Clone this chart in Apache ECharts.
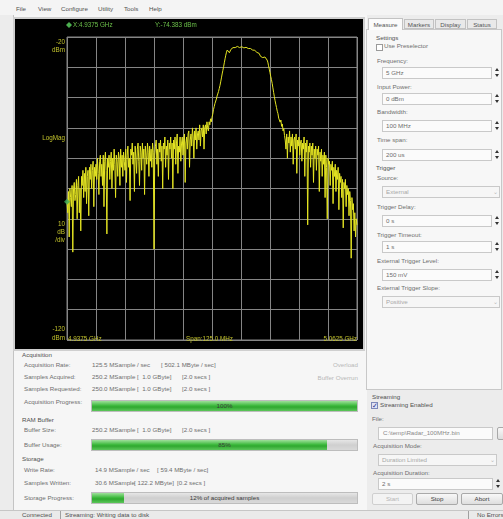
<!DOCTYPE html>
<html><head><meta charset="utf-8">
<script src="https://cdn.jsdelivr.net/npm/echarts@6/dist/echarts.min.js"></script>
<style>
html,body{margin:0;padding:0;width:503px;height:519px;overflow:hidden;background:#ececec;font-family:"Liberation Sans",Arial,sans-serif;font-size:6.2px;color:#606060;}
#ui{position:absolute;left:0;top:0;width:503px;height:519px;}
.abs{position:absolute;white-space:pre;line-height:8px;}
.hdr{color:#505050;}
.lbl{color:#6e6e6e;}
.dim{color:#b8b8b8;}
.box{position:absolute;background:#fbfbfb;border:1px solid #c9c9c9;box-sizing:border-box;}
.btn{position:absolute;box-sizing:border-box;border:1px solid #a9a9a9;border-radius:2px;background:linear-gradient(#f8f8f8,#dedede);text-align:center;line-height:10px;color:#404040;}
.bar{position:absolute;box-sizing:border-box;border:1px solid #bdbdbd;background:linear-gradient(#e6e6e6,#cfcfcf 50%,#d9d9d9);overflow:hidden;}
.fill{position:absolute;left:0;top:0;bottom:0;background:linear-gradient(#9ee09a,#3fba3f 45%,#2fa82f 60%,#5cc65a);}
.bartxt{position:absolute;left:0;right:0;top:0;bottom:0;text-align:center;line-height:10px;color:#3a3a3a;}
#chart{position:absolute;left:15px;top:19px;width:348px;height:330px;}
</style></head><body>
<div id="ui"></div>
<div id="chart"></div>
<script>
// ---------------- data ----------------
const startFreqMHz = 4937.5;
const stopFreqMHz = 5062.5;
const freqStepMHz = 0.3125;
const freqDivMHz = 12.5;
const refLevel = -20;
const bottomLevel = -120;
const dbPerDiv = 10;
const levels = [
 -74.4,-78,-71,-86,-70,-73,-76,-69,-91,-70,
 -68,-74,-72,-67,-80,-69,-66,-78,-70,-84,
 -66,-69,-64,-73,-65,-71,-63,-75,-66,-64,
 -79,-63,-67,-62,-70,-64,-61,-76,-63,-66,
 -62,
 -67,-60,-65,-72,-61,-59,-66,-62,-69,-59,
 -76,-61,-58,-64,-85,-60,-63,-59,-67,-61,
 -58,-70,-60,-64,-57,-62,-73,-59,-61,-66,
 -58,-60,-69,-57,-63,-59,-66,-58,-61,-64,
 -57,-68,-59,-56,-63,-60,-74,-57,-59,-55,
 -62,-58,-71,-56,-60,-65,-57,-55,-61,-69,
 -56,-58,-64,-55,-60,-57,-72,-56,-59,-62,
 -55,-58,-66,-56,-61,-57,-63,-55,-58,-90,
 -59,-56,-54,-62,-57,-66,-55,-58,-54,-61,
 -56,-70,-55,-57,-53,-63,-56,-59,-54,-67,
 -55,-57,-53,-60,-55,-70,-54,-57,-53,-62,
 -55,-52,-65,-56,-58,-53,-61,-55,-53,-59,
 -54,-52,-68,-55,-53,-57,-52,-51,-63,-54,
 -52,-56,-50,-53,-60,-51,-54,-50,-57,-52,
 -51,-54,-49,-56,-51,-50,-53,-49,-57,-50,
 -49,-52,-48,-50,-51,-48,-49,-47,-48,-46.5,
 -45.5,-44,-43,-42,-41.5,-40.5,-39.5,-39,-38,-37,
 -36,-34.8,-33.5,-32.2,-31,-29.8,-28.5,-27.2,-26,-25,
 -24.3,-23.9,
 -24.6,-25.2,-24.8,-24.1,-23.8,-23.9,-23.5,-23.7,
 -23.3,-23.5,-23.2,-23.4,-23.1,-23.3,-23.2,-23.5,-23.3,-23.4,
 -23.2,-23.5,-23.3,-23.6,-23.4,-23.5,-23.4,-23.7,-23.6,-23.8,
 -23.6,-23.9,-23.8,-24.1,-23.9,-24.3,-24.2,-24.5,-24.4,-24.8,
 -24.7,-25.1,-25.3,-25.0,-25.4,-25.9,-26.4,-26.1,-26.3,-26.8,
 -26.5,-27,-26.6,-26.9,-27.2,-27.6,
 -28.3,-29.5,-30.6,-31.8,-33,-34.1,-35.3,-36.8,-38.3,-39.7,
 -41,-42.2,-43.3,-44.5,-45.3,-46.8,-46.2,-48.1,-47.4,-49.5,
 -48.7,-51,-50.2,-52.5,
 -54,-57,-52,-60,-53,-55,-51,-58,-53,-56,
 -52,-62,-54,-53,-57,-52,-65,-54,-56,-53,
 -59,-55,-54,-61,-55,-57,-53,-66,-55,-58,
 -54,-82,-56,-58,-55,-63,-56,-59,-55,-68,
 -57,-60,-56,-64,-57,-59,-56,-71,-58,-61,
 -57,-66,-59,-62,-58,-73,-59,-63,-80,-60,
 -62,-61,-69,-62,-64,-61,-75,-63,-66,-62,
 -71,-64,-67,-63,-77,-65,-68,-66,-73,-67,
 -83,-68,-70,-67,-76,-69,-72,-70,-79,-71,
 -74,-93,-73,-77,-75,-84,-78,-86,-80,-82
];
const markerFreqMHz = 4937.5;
const markerLevel = -74.383;
const yLabelsTop = ['-20','dBm'];
const yLabelsMid = ['LogMag'];
const yLabelsScale = ['10','dB','/div'];
const yLabelsBottom = ['-120','dBm'];
const xLabels = ['4.9375 GHz','Span:125.0 MHz','5.0625 GHz'];

const menuItems = ['File','View','Configure','Utility','Tools','Help'];
const tabs = ['Measure','Markers','Display','Status'];
const acqRows = [
 ['Acquisition Rate:',['125.5 MSample / sec','','[ 502.1 MByte / sec]']],
 ['Samples Acquired:',['250.2 MSample','[  1.0 GByte]','[2.0 secs ]']],
 ['Samples Requested:',['250.0 MSample','[  1.0 GByte]','[2.0 secs ]']]
];
const ramRows = [['Buffer Size:',['250.2 MSample','[  1.0 GByte]','[2.0 secs ]']]];
const storRows = [
 ['Write Rate:',['14.9 MSample / sec','','[ 59.4 MByte / sec]']],
 ['Samples Written:',['30.6 MSample','[ 122.2 MByte]','[0.2 secs ]']]
];
const acqProgress = 100, bufferUsage = 85, storageProgress = 12;

// ---------------- UI chrome ----------------
const ui = document.getElementById('ui');
function el(cls, css, text){const d=document.createElement('div');d.className=cls;Object.assign(d.style,css);if(text!==undefined)d.textContent=text;ui.appendChild(d);return d;}
function txt(x,y,s,cls,extra){return el('abs '+(cls||''),Object.assign({left:x+'px',top:(y-4)+'px'},extra||{}),s);}
function rtxt(xr,y,s,cls){return el('abs '+(cls||''),{right:(503-xr)+'px',top:(y-4)+'px'},s);}
function rect(x,y,w,h,css){return el('abs',Object.assign({left:x+'px',top:y+'px',width:w+'px',height:h+'px'},css));}
function spin(x,y,w,s){el('box',{left:x+'px',top:(y-6)+'px',width:w+'px',height:'12px'});el('abs lbl',{left:(x+4)+'px',top:(y-4)+'px'},s);
  el('abs',{left:(x+w+3)+'px',top:(y-5)+'px',width:0,height:0,borderLeft:'2.5px solid transparent',borderRight:'2.5px solid transparent',borderBottom:'3.5px solid #333'});
  el('abs',{left:(x+w+3)+'px',top:(y+1)+'px',width:0,height:0,borderLeft:'2.5px solid transparent',borderRight:'2.5px solid transparent',borderTop:'3.5px solid #333'});}
function combo(x,y,w,s){el('box',{left:x+'px',top:(y-6)+'px',width:w+'px',height:'12px',background:'#f6f6f6'});el('abs dim',{left:(x+4)+'px',top:(y-4)+'px',color:'#a8a8a8'},s);el('abs dim',{left:(x+w-7)+'px',top:(y-4)+'px'},'\u2304');}
function progress(x,y,w,h,fillPct,label){const b=el('bar',{left:x+'px',top:y+'px',width:w+'px',height:h+'px'});const f=document.createElement('div');f.className='fill';f.style.width=fillPct+'%';b.appendChild(f);const t=document.createElement('div');t.className='bartxt';t.textContent=label;b.appendChild(t);}
function check(x,y,on){const c=el('abs',{left:x+'px',top:(y-3)+'px',width:'5px',height:'5px',border:'1px solid '+(on?'#7d88b8':'#9a9a9a'),background:on?'#dfe3f5':'#fff'});if(on){c.style.color='#1e2f8a';c.style.fontSize='7px';c.style.lineHeight='6px';c.textContent='\u2713';}}
function valueRow(y,label,parts,cols){txt(24,y,label,'lbl');parts.forEach((p,i)=>{if(p)txt(cols[i],y,p,'lbl');});}

// menu bar
rect(0,0,503,15,{background:'#f4f4f4'});
const menuX=[16,38,61,98,124,149];
menuItems.forEach((m,i)=>txt(menuX[i],9,m,'hdr'));
// main content panel (left)
rect(13,15,353,495,{background:'#f6f6f6',borderLeft:'1px solid #c4c4c4'});
rect(13,17,352,334,{background:'#cfcfcf'});
// right tab panel
rect(366,29,136,361,{background:'#f7f7f7',border:'1px solid #c8c8c8',boxSizing:'border-box'});
const tabX=[368,404,435,467], tabW=[35,30,31,30];
tabs.forEach((t,i)=>{const a=i===0;el('abs',{left:tabX[i]+'px',top:(a?18:19)+'px',width:tabW[i]+'px',height:(a?12:10)+'px',boxSizing:'border-box',border:'1px solid #c2c2c2',borderBottom:a?'none':'1px solid #c2c2c2',background:a?'#fbfbfb':'#e9e9e9',textAlign:'center',lineHeight:(a?11:9)+'px',color:'#555'},t);});
txt(376,38,'Settings','hdr');
check(376,47,false); txt(384,46,'Use Preselector','lbl');
txt(377,61,'Frequency:','lbl'); spin(382,73,110,'5 GHz');
txt(377,87,'Input Power:','lbl'); spin(382,99,110,'0 dBm');
txt(377,112,'Bandwidth:','lbl'); spin(382,126,110,'100 MHz');
txt(377,140,'Time span:','lbl'); spin(382,155,110,'200 us');
txt(376,168,'Trigger','hdr');
txt(377,178,'Source:','lbl'); combo(382,192,118,'External');
txt(377,207,'Trigger Delay:','lbl'); spin(382,221,110,'0 s');
txt(377,235,'Trigger Timeout:','lbl'); spin(382,247,110,'1 s');
txt(377,261,'External Trigger Level:','lbl'); spin(382,275,110,'150 mV');
txt(377,288,'External Trigger Slope:','lbl'); combo(382,302,118,'Positive');
// streaming section
txt(372,397,'Streaming','hdr');
check(371,405,true); txt(380,405,'Streaming Enabled','hdr');
txt(372,419,'File:','lbl');
el('box',{left:'378px',top:'427px',width:'115px',height:'13px'}); txt(383,433,'C:\\temp\\Radar_100MHz.bin','lbl',{color:'#8a8a8a'});
el('btn',{left:'497px',top:'427px',width:'14px',height:'13px'},'');
txt(373,446,'Acquisition Mode:','lbl'); combo(378,460,119,'Duration Limited');
txt(373,473,'Acquisition Duration:','lbl'); spin(378,484,115,'2 s');
el('btn',{left:'372px',top:'493px',width:'41px',height:'12px',color:'#b5b5b5',borderColor:'#cfcfcf',background:'#f3f3f3'},'Start');
el('btn',{left:'416px',top:'493px',width:'42px',height:'12px'},'Stop');
el('btn',{left:'461px',top:'493px',width:'42px',height:'12px'},'Abort');
// acquisition section
txt(22,355,'Acquisition','hdr');
valueRow(365,acqRows[0][0],acqRows[0][1],[92,0,161]);
valueRow(377,acqRows[1][0],acqRows[1][1],[92,137,182]);
valueRow(389,acqRows[2][0],acqRows[2][1],[92,137,182]);
rtxt(358,365,'Overload','dim'); rtxt(358,378,'Buffer Overrun','dim');
txt(24,402,'Acquisition Progress:','lbl');
progress(91,400,267,12,acqProgress,acqProgress+'%');
txt(22,420,'RAM Buffer','hdr');
valueRow(430,ramRows[0][0],ramRows[0][1],[92,137,182]);
txt(24,445,'Buffer Usage:','lbl');
progress(91,439,267,12,88.5,bufferUsage+'%');
txt(22,459,'Storage','hdr');
valueRow(470,storRows[0][0],storRows[0][1],[95,0,157]);
valueRow(483,storRows[1][0],storRows[1][1],[95,134,177]);
txt(24,498,'Storage Progress:','lbl');
progress(91,492,267,12,storageProgress,storageProgress+'% of acquired samples');
// status bar
rect(0,510,503,9,{background:'#eaeaea',borderTop:'1px solid #c6c6c6',boxSizing:'border-box'});
txt(22,515,'Connected','hdr'); rect(60,511,1,8,{background:'#a0a0a0'});
txt(65,515,'Streaming: Writing data to disk','hdr');
rect(468,511,1,8,{background:'#a0a0a0'}); txt(477,515,'No Errors','hdr');

// ---------------- chart ----------------
const chart = echarts.init(document.getElementById('chart'), null, {renderer:'canvas'});
const traceData = levels.map((v,i)=>[startFreqMHz + i*freqStepMHz, v]);
const gridL=52, gridT=18, gridW=290, gridH=303;
const labCol='#c2c22c', fs=6.3, ff='Liberation Sans, Arial, sans-serif';
function gtext(x,y,s,align,color){return {type:'text',x:x,y:y,style:{text:s,fill:color||labCol,font:fs+'px '+ff,align:align||'left',verticalAlign:'middle'},z:10};}
const graphics = [];
graphics.push({type:'polygon',shape:{points:[[54,3],[57,6],[54,9],[51,6]]},style:{fill:'#4caf50'},z:10});
graphics.push(gtext(58,6,'X:'+(markerFreqMHz/1000).toFixed(4)+' GHz','left','#6cc04a'));
graphics.push(gtext(140,6,'Y:'+markerLevel.toFixed(3)+' dBm','left','#6cc04a'));
yLabelsTop.forEach((s,i)=>graphics.push(gtext(50,23+i*8,s,'right')));
yLabelsMid.forEach((s,i)=>graphics.push(gtext(50,119,s,'right')));
yLabelsScale.forEach((s,i)=>graphics.push(gtext(50,205+i*8,s,'right')));
yLabelsBottom.forEach((s,i)=>graphics.push(gtext(50,310+i*9,s,'right')));
graphics.push(gtext(53,320,xLabels[0],'left'));
graphics.push(gtext(171,320,xLabels[1],'left'));
graphics.push(gtext(342,320,xLabels[2],'right'));
const gridCol='#858585';
chart.setOption({
  animation:false,
  backgroundColor:'#000',
  grid:{left:gridL,top:gridT,width:gridW,height:gridH,show:true,borderColor:gridCol,borderWidth:1},
  xAxis:{type:'value',min:startFreqMHz,max:stopFreqMHz,interval:freqDivMHz,axisLine:{show:false},axisTick:{show:false},axisLabel:{show:false},splitLine:{show:true,lineStyle:{color:gridCol,width:1}}},
  yAxis:{type:'value',min:bottomLevel,max:refLevel,interval:dbPerDiv,axisLine:{show:false},axisTick:{show:false},axisLabel:{show:false},splitLine:{show:true,lineStyle:{color:gridCol,width:1}}},
  series:[
    {type:'line',data:traceData,showSymbol:false,symbol:'none',lineStyle:{color:'#e4e422',width:1},z:3},
    {type:'scatter',data:[[markerFreqMHz,markerLevel]],symbol:'diamond',symbolSize:6,itemStyle:{color:'#3fae5a'},z:4}
  ],
  graphic:graphics
});
</script>
</body></html>
